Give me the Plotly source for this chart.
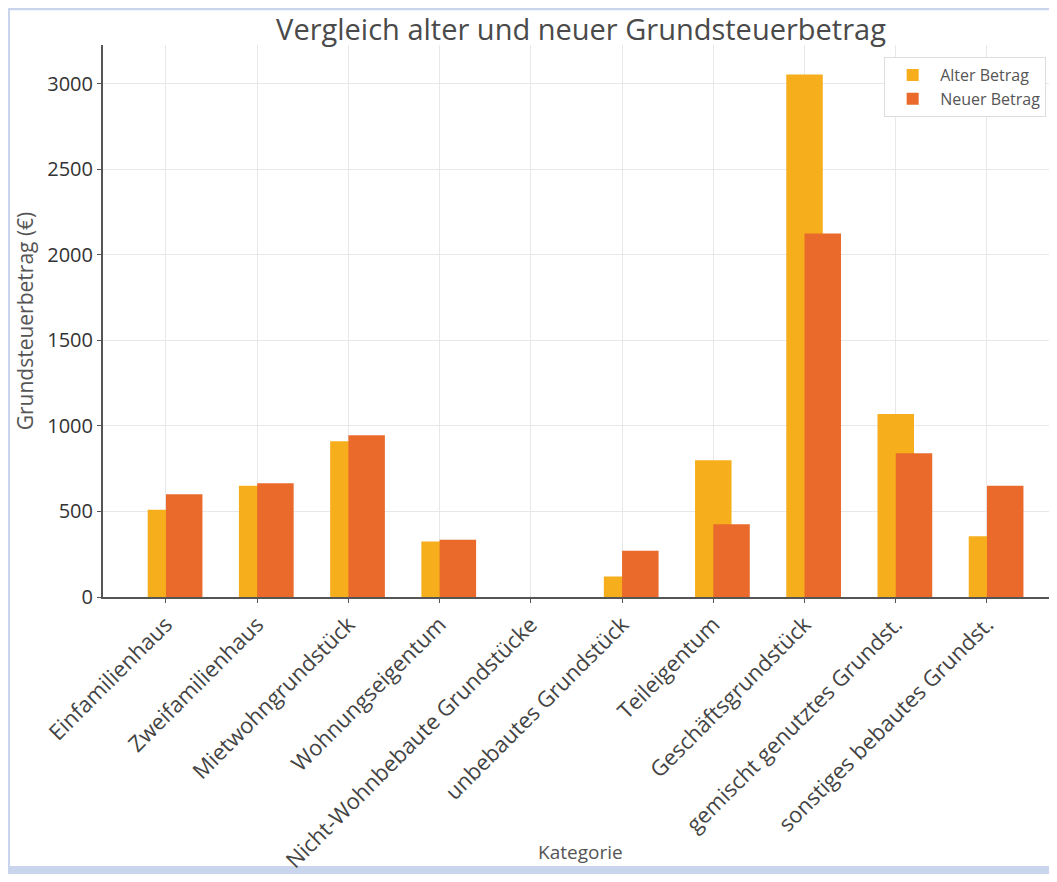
import plotly.graph_objects as go

# categories and amounts
kategorien = [
    "Einfamilienhaus",
    "Zweifamilienhaus",
    "Mietwohngrundstück",
    "Wohnungseigentum",
    "Nicht-Wohnbebaute Grundstücke",
    "unbebautes Grundstück",
    "Teileigentum",
    "Geschäftsgrundstück",
    "gemischt genutztes Grundst.",
    "sonstiges bebautes Grundst.",
]
alter_betrag = [510, 650, 910, 325, 0, 120, 800, 3055, 1070, 355]
neuer_betrag = [600, 665, 945, 335, 0, 270, 425, 2125, 840, 650]

ALT_COLOR = "#F6AE1D"
NEU_COLOR = "#E96A2B"

# the page body has an 8px margin, so the figure is a bit smaller than the window
W, H = 1041, 866
L, R, T, B = 95, 0, 37, 273
pw, ph = W - L - R, H - T - B

fig = go.Figure()
fig.add_trace(go.Bar(
    x=kategorien, y=alter_betrag, name="Alter Betrag",
    marker=dict(color=ALT_COLOR, line=dict(width=0)),
    offset=-0.2, width=0.4))
fig.add_trace(go.Bar(
    x=kategorien, y=neuer_betrag, name="Neuer Betrag",
    marker=dict(color=NEU_COLOR, line=dict(width=0)),
    offset=0.0, width=0.4))

# white card on a light blue frame
fig.add_shape(
    type="rect", xref="paper", yref="paper", layer="below",
    x0=(2 - L) / pw, x1=1.0,
    y0=-(864 - (T + ph)) / ph, y1=1 + (T - 2) / ph,
    fillcolor="white", line=dict(width=0))

# x axis title placed by hand so it sits near the bottom like the original
fig.add_annotation(
    text="Kategorie", xref="paper", yref="paper",
    x=(572 - L) / pw, y=-(850 - (T + ph)) / ph,
    xanchor="center", yanchor="middle", showarrow=False,
    font=dict(size=19, color="#555555"))

fig.update_layout(
    width=W, height=H,
    margin=dict(l=L, r=R, t=T, b=B, pad=0),
    barmode="overlay",
    paper_bgcolor="#C8D5EC",
    plot_bgcolor="white",
    font=dict(family="Open Sans", color="#444444", size=18),
    title=dict(
        text="Vergleich alter und neuer Grundsteuerbetrag",
        x=573 / W, xanchor="center",
        y=1 - 22 / H, yanchor="middle",
        font=dict(family="Open Sans", size=29, color="#4a4a4a")),
    legend=dict(
        x=0.997, y=0.978, xanchor="right", yanchor="top",
        bgcolor="white", bordercolor="#dddddd", borderwidth=1,
        font=dict(size=16, color="#555555"),
        itemwidth=45,
        traceorder="normal"),
    showlegend=True,
    xaxis=dict(
        type="category",
        range=[-0.69, 9.68],
        tickangle=-45,
        tickfont=dict(size=22, color="#444444"),
        showgrid=True, gridcolor="#e8e8e8", gridwidth=1,
        showline=True, linecolor="#555555", linewidth=2,
        ticks="outside", ticklen=4, tickcolor="#555555",
        zeroline=False),
    yaxis=dict(
        range=[0, 3227],
        tickvals=[0, 500, 1000, 1500, 2000, 2500, 3000],
        tickfont=dict(size=20, color="#333333"),
        title=dict(text="Grundsteuerbetrag (€)", font=dict(size=21, color="#555555"), standoff=8),
        showgrid=True, gridcolor="#e8e8e8", gridwidth=1,
        showline=True, linecolor="#555555", linewidth=2,
        ticks="outside", ticklen=4, tickcolor="#555555",
        zeroline=False),
)

fig.write_html("out.html")
